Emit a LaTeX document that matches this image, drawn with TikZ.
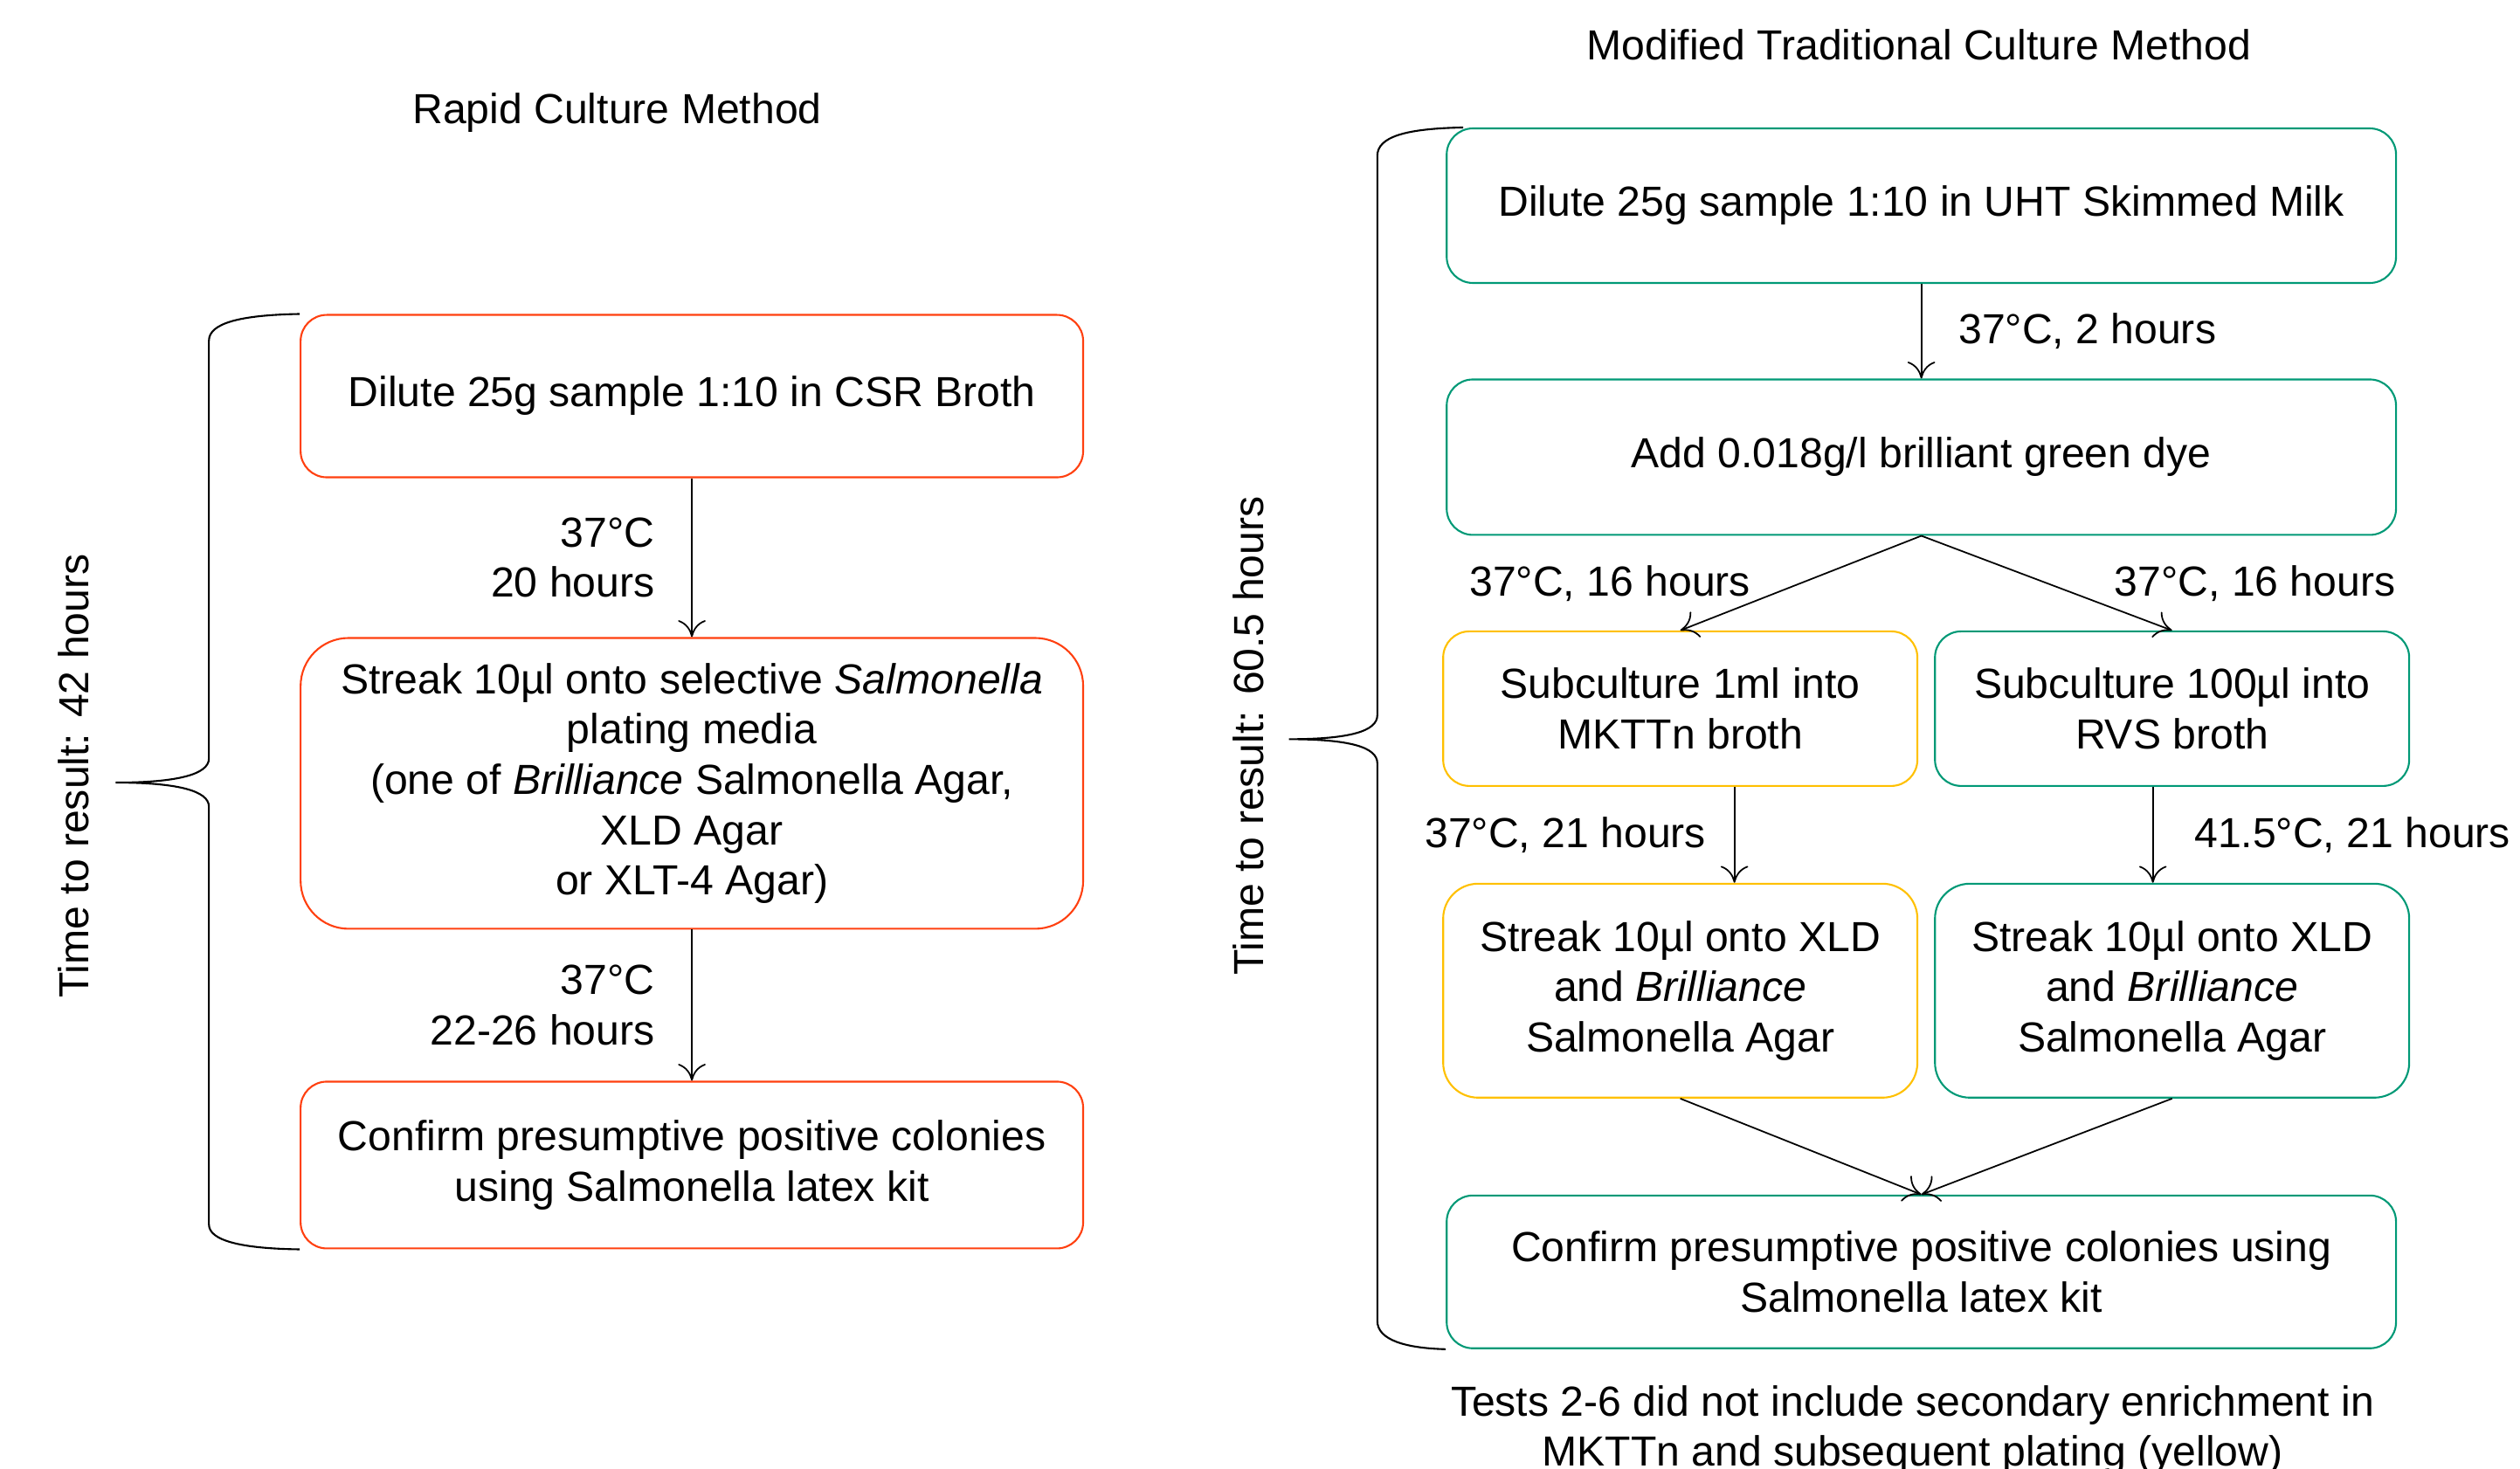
\documentclass[tikz,border=0pt]{standalone}
\usepackage{fontspec}
\setmainfont{Liberation Sans}
\usepackage{tikz}
\usetikzlibrary{arrows.meta}
\usetikzlibrary{positioning}
\definecolor{mred}{RGB}{255, 64, 16}
\definecolor{mgreen}{RGB}{0, 153, 118}
\definecolor{myellow}{RGB}{255, 192, 0}
\tikzset{
  box/.style={draw, line width=0.6pt, align=center, inner sep=2pt,
    font=\fontsize{13.7}{16.4}\selectfont},
  flow/.style={line width=0.5pt, -{To[length=5.5pt, width=9pt]}},
  lbl/.style={align=right, font=\fontsize{13.7}{16.4}\selectfont},
  brace/.style={line width=0.6pt}
}

\begin{document}
\begin{tikzpicture}[x=0.0184cm, y=-0.0184cm]
    \useasboundingbox (0, 0) rectangle (1568, 914);

    % rapid method
    \node[lbl] (rtitle) at (384, 70) {Rapid Culture Method};
    \node[box, mred, text=black, rounded corners=0.3cm, minimum width=8.96cm, minimum height=1.86cm] (dil) at (430.5, 246.5) {Dilute 25g sample 1:10 in CSR Broth};
    \node[box, mred, text=black, rounded corners=0.55cm, minimum width=8.96cm, minimum height=3.33cm] (streak) at (430.5, 487.5) {Streak 10µl onto selective \textit{Salmonella}\\plating media\\(one of \textit{Brilliance} Salmonella Agar,\\XLD Agar\\or XLT-4 Agar)};
    \node[box, mred, text=black, rounded corners=0.3cm, minimum width=8.96cm, minimum height=1.91cm] (conf) at (430.5, 725) {Confirm presumptive positive colonies\\using Salmonella latex kit};

    \draw[flow] (dil) -- node[lbl, left=0.3cm] {37°C\\20 hours} (streak);
    \draw[flow] (streak) -- node[lbl, left=0.3cm] {37°C\\22-26 hours} (conf);

    \draw[brace] (dil.north west) .. controls (150, 196) and (130, 201) .. (130, 212) -- (130, 472) .. controls (130, 482) and (110, 487) .. (72, 487) .. controls (110, 487) and (130, 492) .. (130, 502) -- (130, 762) .. controls (130, 772) and (150, 777) .. (conf.south west);
    \node[lbl, rotate=90] (rtime) at (46, 483) {Time to result: 42 hours};

    % modified traditional method
    \node[lbl] (mtitle) at (1194, 28) {Modified Traditional Culture Method};
    \node[box, mgreen, text=black, rounded corners=0.3cm, minimum width=10.87cm, minimum height=1.77cm] (milk) at (1195.5, 128) {Dilute 25g sample 1:10 in UHT Skimmed Milk};
    \node[box, mgreen, text=black, rounded corners=0.3cm, minimum width=10.87cm, minimum height=1.78cm] (dye) at (1195.5, 284.5) {Add 0.018g/l brilliant green dye};
    \node[box, myellow, text=black, rounded corners=0.3cm, minimum width=5.43cm, minimum height=1.77cm] (mktt) at (1045.5, 441) {Subculture 1ml into\\MKTTn broth};
    \node[box, mgreen, text=black, rounded corners=0.3cm, minimum width=5.43cm, minimum height=1.77cm] (rvs) at (1351.5, 441) {Subculture 100µl into\\RVS broth};
    \node[box, myellow, text=black, rounded corners=0.4cm, minimum width=5.43cm, minimum height=2.45cm] (xldy) at (1045.5, 616.5) {Streak 10µl onto XLD\\and \textit{Brilliance}\\Salmonella Agar};
    \node[box, mgreen, text=black, rounded corners=0.4cm, minimum width=5.43cm, minimum height=2.45cm] (xldg) at (1351.5, 616.5) {Streak 10µl onto XLD\\and \textit{Brilliance}\\Salmonella Agar};
    \node[box, mgreen, text=black, rounded corners=0.3cm, minimum width=10.87cm, minimum height=1.75cm] (latex) at (1195.5, 791.5) {Confirm presumptive positive colonies using\\Salmonella latex kit};

    \draw[flow] (milk) -- node[lbl, right=0.3cm] {37°C, 2 hours} (dye);
    \draw[flow] (dye.south) -- node[lbl, left=0.45cm] {37°C, 16 hours} (mktt.north);
    \draw[flow] (dye.south) -- node[lbl, right=0.65cm] {37°C, 16 hours} (rvs.north);
    \draw[flow] ([xshift=0.62cm]mktt.south) -- node[lbl, left=0.2cm] {37°C, 21 hours} ([xshift=0.62cm]xldy.north);
    \draw[flow] ([xshift=-0.22cm]rvs.south) -- node[lbl, right=0.35cm] {41.5°C, 21 hours} ([xshift=-0.22cm]xldg.north);
    \draw[flow] (xldy.south) -- (latex.north);
    \draw[flow] (xldg.south) -- (latex.north);

    \draw[brace] ([xshift=0.2cm]milk.north west) .. controls (875, 80) and (857, 85) .. (857, 97) -- (857, 445) .. controls (857, 455) and (840, 460) .. (802, 460) .. controls (840, 460) and (857, 465) .. (857, 475) -- (857, 822) .. controls (857, 834) and (875, 839) .. (latex.south west);
    \node[lbl, rotate=90] (mtime) at (777, 458) {Time to result: 60.5 hours};

    \node[lbl, align=center] (note) at (1190, 890) {Tests 2-6 did not include secondary enrichment in\\MKTTn and subsequent plating (yellow)};
  \end{tikzpicture}
\end{document}
